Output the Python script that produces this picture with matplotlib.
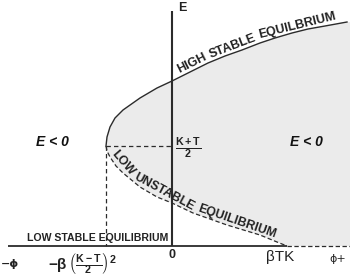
import matplotlib
matplotlib.use("Agg")
import matplotlib.pyplot as plt
import numpy as np

plt.rcParams['font.family'] = ['Liberation Sans', 'DejaVu Sans']
plt.rcParams['mathtext.fontset'] = 'custom'
plt.rcParams['mathtext.rm'] = 'Liberation Sans:bold'
plt.rcParams['mathtext.it'] = 'Liberation Sans:italic:bold'
plt.rcParams['mathtext.bf'] = 'Liberation Sans:bold'
plt.rcParams['mathtext.sf'] = 'Liberation Sans:bold'

# ---- data (phi on x, E on y; schematic units) ----
upper_phi = [-66, -65, -62, -57, -49, -32, -15, 0, 18, 36, 53, 70, 88, 103, 120, 136, 153, 175]
upper_E   = [100, 109, 119, 128, 136, 148, 158, 165, 174, 183, 190, 196, 203, 208, 213, 217, 220, 224]
lower_phi = [-66, -65, -62, -56, -49, -32, -15, 0, 21, 55, 88, 105, 115]
lower_E   = [100, 95, 89, 80, 73, 59, 49, 43, 33, 21, 11, 4, 0]
vertex_phi = -66      # -beta((K-T)/2)^2
vertex_E = 100        # (K+T)/2
btk_phi = 115         # beta T K
phi_min, phi_max = -164, 178
E_top = 235
upper_words = ['HIGH', 'STABLE', 'EQUILBRIUM']
lower_words = ['LOW', 'UNSTABLE', 'EQUILIBRIUM']

fig = plt.figure(figsize=(3.5, 2.8), dpi=100)
ax = fig.add_axes([0, 0, 1, 1])
ax.set_xlim(-172, 178)
ax.set_ylim(-34, 246)
ax.axis('off')

dark = '#2b2b2b'
tcol = '#222222'

# shaded region
poly_x = upper_phi + [phi_max, phi_max] + lower_phi[::-1]
poly_y = upper_E + [upper_E[-1], 0] + lower_E[::-1]
ax.fill(poly_x, poly_y, color='#ebebeb', lw=0, zorder=0)

# curves
ax.plot(upper_phi, upper_E, color=dark, lw=1.0, zorder=3)
ax.plot(lower_phi, lower_E, color=dark, lw=0.9, ls=(0, (3.5, 2)), zorder=3)

# dashed guides
ax.plot([vertex_phi, 0], [vertex_E, vertex_E], color=dark, lw=0.9, ls=(0, (3.5, 2.5)), zorder=2)
ax.plot([vertex_phi, vertex_phi], [vertex_E, 0], color=dark, lw=0.9, ls=(0, (3.5, 2.5)), zorder=2)

# axes
ax.plot([phi_min, btk_phi], [0, 0], color=dark, lw=1.3, zorder=4, solid_capstyle='butt')
ax.plot([btk_phi, phi_max], [0, 0], color=dark, lw=0.9, ls=(0, (3.5, 2)), zorder=4)
ax.plot([0, 0], [0, E_top], color=dark, lw=1.5, zorder=4, solid_capstyle='butt')


def curved_words(words, xs, ys, start_x, offset_px, fontsize):
    renderer = fig.canvas.get_renderer()
    pts = ax.transData.transform(np.column_stack([xs, ys]))
    # offset polyline (left normal) in display space
    tang = np.gradient(pts, axis=0)
    tang /= np.linalg.norm(tang, axis=1)[:, None]
    norm = np.column_stack([-tang[:, 1], tang[:, 0]])
    opts = pts + norm * offset_px
    seg = np.hypot(np.diff(opts[:, 0]), np.diff(opts[:, 1]))
    s = np.concatenate([[0], np.cumsum(seg)])
    start_disp = ax.transData.transform([[start_x, np.interp(start_x, xs, ys)]])[0]
    s0 = np.interp(start_disp[0], pts[:, 0], s)

    def at(sv):
        return np.array([np.interp(sv, s, opts[:, 0]), np.interp(sv, s, opts[:, 1])])

    space = fontsize * 0.3 * fig.dpi / 72
    cur = s0
    for w in words:
        t = ax.text(0, 0, w, fontsize=fontsize, fontweight='bold', color=tcol)
        width = t.get_window_extent(renderer).width
        t.remove()
        a, b = at(cur), at(cur + width)
        d = (b - a) / np.linalg.norm(b - a)
        c = at(cur + width / 2) * 0.6 + (a + b) / 2 * 0.4
        cd = ax.transData.inverted().transform([c])[0]
        ang = np.degrees(np.arctan2(d[1], d[0]))
        ax.text(cd[0], cd[1], w, fontsize=fontsize, fontweight='bold', color=tcol,
                rotation=ang, rotation_mode='anchor', ha='center', va='center', zorder=5)
        cur += width + space


curved_words(upper_words, upper_phi, upper_E, 9, 6.5, 9)
curved_words(lower_words, lower_phi, lower_E, -63.5, 6.5, 8.9)

# axis labels
ax.text(6, 238, 'E', color=tcol, fontsize=9, fontweight='bold', ha='left', va='center')
ax.text(0, -9, '0', color=tcol, fontsize=9, fontweight='bold', ha='center', va='center')
ax.text(-162, -18, '−ϕ', color=tcol, fontsize=8, fontweight='bold', ha='center', va='center',
        family=['DejaVu Sans'])
ax.text(166, -13, 'ϕ+', color=tcol, fontsize=8, ha='center', va='center', family=['DejaVu Sans'])
ax.text(108, -11, 'βTK', color=tcol, fontsize=11, ha='center', va='center')
ax.text(-90, -18, r'$\mathrm{-β}\,\left(\frac{\mathrm{K-T}}{\mathrm{2}}\right)^{\mathrm{2}}$',
        color=tcol, fontsize=11, ha='center', va='center')
ax.text(16, 97, r'$\frac{\mathrm{K+T}}{\mathrm{2}}$', color=tcol, fontsize=11, ha='center', va='center')

# region labels
ax.text(-120, 104, 'E < 0', color='#111111', fontsize=10, fontweight='bold', style='italic',
        ha='center', va='center')
ax.text(134, 104, 'E < 0', color='#111111', fontsize=10, fontweight='bold', style='italic',
        ha='center', va='center')

ax.text(-74, 8, 'LOW STABLE EQUILIBRIUM', color=tcol, fontsize=7.6, fontweight='bold',
        ha='center', va='center')

fig.savefig('out.png', dpi=100)
